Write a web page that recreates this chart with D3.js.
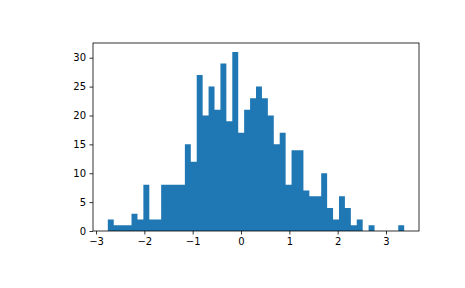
<!DOCTYPE html>
<html>
<head>
<meta charset="utf-8">
<script src="https://cdn.jsdelivr.net/npm/d3@7"></script>
<style>
  body { margin: 0; background: #fff; }
  .axis text { font-family: 'DejaVu Sans', sans-serif; font-size: 10px; fill: #000; }
  .axis path, .axis line { stroke: #000; stroke-width: 0.8px; }
</style>
</head>
<body>
<svg></svg>
<script>
// Histogram data: 50 bins between binStart and binEnd
let binStart = -2.756;
let binEnd = 3.376;
let counts = [2, 1, 1, 1, 3, 2, 8, 2, 2, 8,
  8, 8, 8, 15, 12, 27, 20, 25, 21, 29,
  19, 31, 17, 21, 23, 25, 23, 20, 15, 17,
  8, 14, 14, 7, 6, 6, 10, 4, 2, 6,
  4, 1, 2, 0, 1, 0, 0, 0, 0, 1];
let xTicks = [-3, -2, -1, 0, 1, 2, 3];
let yTicks = [0, 5, 10, 15, 20, 25, 30];

// SVG size and axes box
let svgWidth = 465;
let svgHeight = 288;
let margin = { top: 43, right: 46, bottom: 57, left: 93 };
let width = svgWidth - margin.left - margin.right;
let height = svgHeight - margin.top - margin.bottom;

let binWidth = (binEnd - binStart) / counts.length;
let bins = counts.map((c, i) => ({
  x0: binStart + i * binWidth,
  x1: binStart + (i + 1) * binWidth,
  count: c
}));

// matplotlib style 5% margins
let pad = (binEnd - binStart) * 0.05;
let xScale = d3.scaleLinear()
  .domain([binStart - pad, binEnd + pad])
  .range([0, width]);

let yScale = d3.scaleLinear()
  .domain([0, d3.max(counts) * 1.05])
  .range([height, 0]);

let svg = d3.select('svg')
  .attr('width', svgWidth)
  .attr('height', svgHeight)
  .append('g')
  .attr('transform', 'translate(' + margin.left + ', ' + margin.top + ')');

// Bars as a single step outline, so there are no seams between neighbours
let outline = [[bins[0].x0, 0]];
bins.forEach(d => {
  outline.push([d.x0, d.count]);
  outline.push([d.x1, d.count]);
});
outline.push([bins[bins.length - 1].x1, 0]);

let line = d3.line()
  .x(d => xScale(d[0]))
  .y(d => yScale(d[1]));

svg.append('path')
  .attr('d', line(outline) + 'Z')
  .attr('fill', '#1f77b4');

// Axes
let xAxis = d3.axisBottom(xScale)
  .tickValues(xTicks)
  .tickSize(3.5)
  .tickPadding(3.5)
  .tickFormat(d => d < 0 ? '\u2212' + Math.abs(d) : d);

let yAxis = d3.axisLeft(yScale)
  .tickValues(yTicks)
  .tickSize(3.5)
  .tickPadding(3.5);

svg.append('g')
  .attr('class', 'axis')
  .attr('transform', 'translate(0, ' + height + ')')
  .call(xAxis)
  .call(g => g.select('.domain').remove());

svg.append('g')
  .attr('class', 'axis')
  .call(yAxis)
  .call(g => g.select('.domain').remove());

// Frame (spines)
svg.append('rect')
  .attr('x', 0)
  .attr('y', 0)
  .attr('width', width)
  .attr('height', height)
  .attr('fill', 'none')
  .attr('stroke', '#000')
  .attr('stroke-width', 0.8);
</script>
</body>
</html>
